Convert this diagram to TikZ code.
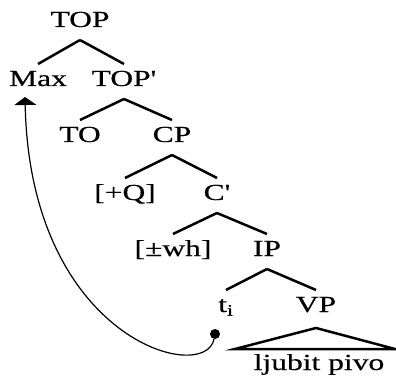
\documentclass[tikz,border=0pt]{standalone}
\usepackage{fontspec}
\setmainfont{Liberation Serif}[FakeBold=0.4]
\usetikzlibrary{arrows.meta}

\begin{document}
\begin{tikzpicture}[x=1pt, y=-1pt, >={Triangle[width=22pt,length=8pt]},
    cat/.style={anchor=base, inner sep=0pt, font=\fontsize{23}{24}\selectfont, xscale=1.37},
    branch/.style={line width=2.5pt}]
    \useasboundingbox (0,0) rectangle (396,377);
    \node[cat] (top) at (80,27) {TOP};
    \node[cat] (max) at (38,86) {Max};
    \node[cat] (topbar) at (124,86) {TOP\textquotesingle};
    \node[cat] (to) at (80,142) {TO};
    \node[cat] (cp) at (172,142) {CP};
    \node[cat] (q) at (125,200) {[+Q]};
    \node[cat] (cbar) at (217,200) {C\textquotesingle};
    \node[cat] (wh) at (173,256) {[±wh]};
    \node[cat] (ip) at (267,256) {IP};
    \node[cat] (ti) at (226,312) {t\textsubscript{i}};
    \node[cat] (vp) at (316,312) {VP};
    \node[cat] (lex) at (319,370) {ljubit pivo};
    \node[circle, fill, inner sep=0pt, minimum size=10pt] (trace) at (215,334) {};
    \foreach \p/\c in {top/max, top/topbar, topbar/to, topbar/cp, cp/q, cp/cbar, cbar/wh, cbar/ip, ip/ti, ip/vp}
        \draw[branch] ([yshift=-13pt]\p.base) -- ([yshift=22pt]\c.base);
    \draw[branch] ([yshift=-16pt]vp.base) -- ([xshift=-84pt,yshift=21pt]lex.base)
        -- ([xshift=76pt,yshift=21pt]lex.base) -- cycle;
    \draw[->, line width=1.2pt] (trace) .. controls (205,385) and (30,340) .. ([xshift=-13pt,yshift=-11pt]max.base);
\end{tikzpicture}
\end{document}
